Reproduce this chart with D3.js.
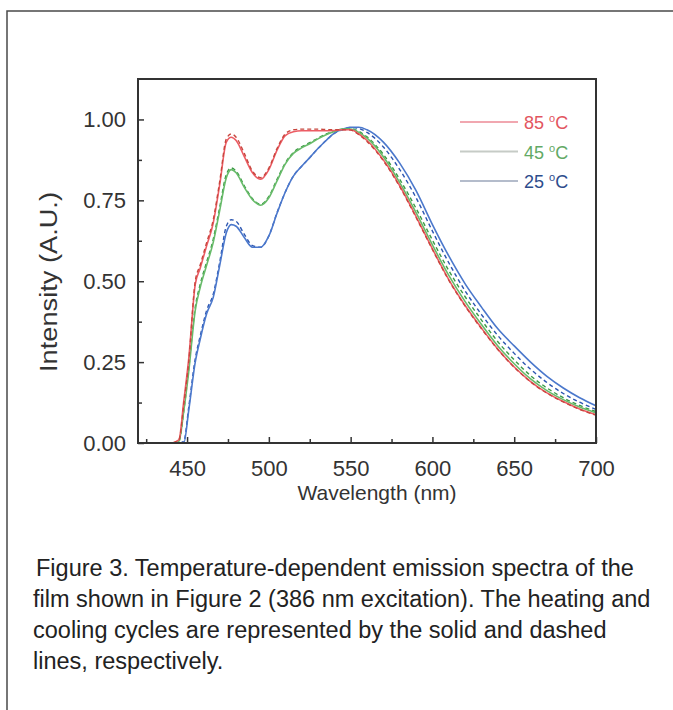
<!DOCTYPE html>
<html>
<head>
<meta charset="utf-8">
<script src="https://cdn.jsdelivr.net/npm/d3@7"></script>
<style>
  body { margin: 0; background: #fff; }
  svg text { font-family: "Liberation Sans", Arial, Helvetica, sans-serif; }
</style>
</head>
<body>
<div class="chart"></div>
<script>
// wavelength grid (nm)
let wavelengths = [420, 440, 445, 448, 451, 455, 458, 462, 466, 470, 474, 477, 480, 485, 490, 495, 500, 505, 510, 515, 520, 525, 530, 535, 540, 545, 550, 555, 560, 570, 580, 590, 600, 610, 620, 630, 640, 650, 660, 670, 680, 690, 700];

// heating (solid) and cooling (dashed) spectra
let heat85 = [0, 0, 0.01, 0.13, 0.26, 0.49, 0.54, 0.61, 0.68, 0.80, 0.93, 0.945, 0.935, 0.885, 0.835, 0.815, 0.845, 0.905, 0.95, 0.962, 0.965, 0.965, 0.965, 0.965, 0.966, 0.968, 0.968, 0.955, 0.935, 0.875, 0.795, 0.70, 0.60, 0.505, 0.425, 0.355, 0.29, 0.235, 0.19, 0.155, 0.128, 0.105, 0.087];
let cool85 = [0, 0, 0.01, 0.12, 0.25, 0.50, 0.55, 0.62, 0.69, 0.81, 0.94, 0.955, 0.945, 0.895, 0.84, 0.82, 0.85, 0.91, 0.955, 0.968, 0.97, 0.97, 0.97, 0.969, 0.968, 0.968, 0.967, 0.953, 0.932, 0.872, 0.792, 0.697, 0.598, 0.503, 0.423, 0.353, 0.289, 0.234, 0.189, 0.154, 0.127, 0.104, 0.086];
let heat45 = [0, 0, 0.005, 0.1, 0.22, 0.41, 0.48, 0.55, 0.62, 0.72, 0.82, 0.845, 0.835, 0.79, 0.752, 0.735, 0.758, 0.81, 0.862, 0.895, 0.912, 0.925, 0.94, 0.953, 0.963, 0.97, 0.97, 0.96, 0.942, 0.885, 0.805, 0.712, 0.612, 0.518, 0.437, 0.366, 0.30, 0.245, 0.198, 0.162, 0.134, 0.111, 0.093];
let cool45 = [0, 0, 0.005, 0.1, 0.23, 0.42, 0.49, 0.56, 0.63, 0.73, 0.83, 0.85, 0.84, 0.795, 0.755, 0.738, 0.762, 0.815, 0.865, 0.898, 0.915, 0.928, 0.942, 0.955, 0.964, 0.97, 0.971, 0.963, 0.946, 0.892, 0.815, 0.725, 0.627, 0.533, 0.452, 0.38, 0.313, 0.257, 0.208, 0.17, 0.14, 0.116, 0.097];
let heat25 = [0, 0, 0, 0, 0.1, 0.25, 0.32, 0.40, 0.45, 0.55, 0.65, 0.675, 0.67, 0.635, 0.605, 0.605, 0.64, 0.71, 0.775, 0.825, 0.855, 0.882, 0.91, 0.935, 0.958, 0.97, 0.976, 0.976, 0.968, 0.93, 0.865, 0.78, 0.675, 0.578, 0.492, 0.42, 0.353, 0.30, 0.25, 0.206, 0.17, 0.14, 0.115];
let cool25 = [0, 0, 0, 0.005, 0.11, 0.26, 0.33, 0.41, 0.46, 0.56, 0.67, 0.69, 0.685, 0.645, 0.61, 0.605, 0.64, 0.712, 0.775, 0.825, 0.855, 0.882, 0.91, 0.935, 0.957, 0.968, 0.975, 0.972, 0.96, 0.915, 0.845, 0.758, 0.655, 0.557, 0.47, 0.397, 0.332, 0.277, 0.228, 0.187, 0.153, 0.126, 0.104];

let legendLabels = ['85', '45', '25'];
let xTicks = [450, 500, 550, 600, 650, 700];
let xMinorTicks = [425, 475, 525, 575, 625, 675];
let yTicks = [0, 0.25, 0.5, 0.75, 1.0];
let yMinorTicks = [0.125, 0.375, 0.625, 0.875];

let captionLines = [
  'Figure 3. Temperature-dependent emission spectra of the',
  'film shown in Figure 2 (386 nm excitation). The heating and',
  'cooling cycles are represented by the solid and dashed',
  'lines, respectively.'
];

let width = 673;
let height = 710;
let plotLeft = 138, plotRight = 596, plotTop = 79, plotBottom = 443;

let series = [
  { name: 'cool25', values: cool25, color: '#2b55b0', dash: '4,3' },
  { name: 'heat25', values: heat25, color: '#4b78cc', dash: null },
  { name: 'cool45', values: cool45, color: '#3c9a46', dash: '4,3' },
  { name: 'heat45', values: heat45, color: '#68bb6a', dash: null },
  { name: 'heat85', values: heat85, color: '#ec5c64', dash: null },
  { name: 'cool85', values: cool85, color: '#c8463e', dash: '4,3' }
];
let legendColors = ['#e25560', '#62a965', '#2d4c8c'];
let legendLineColors = ['#f1a7b0', '#c6cbc6', '#b4bccb'];

let svg = d3.select('.chart')
            .append('svg')
            .attr('width', width)
            .attr('height', height);

// page frame
svg.append('path')
   .attr('d', 'M7,' + height + ' V11 H' + width)
   .attr('fill', 'none')
   .attr('stroke', '#4a4a4a')
   .attr('stroke-width', 1.5);

let xScale = d3.scaleLinear()
               .domain([420, 700])
               .range([plotLeft, plotRight]);
let yScale = d3.scaleLinear()
               .domain([0, 1.125])
               .range([plotBottom, plotTop]);

let line = d3.line()
             .x((d, i) => xScale(wavelengths[i]))
             .y(d => yScale(d))
             .curve(d3.curveMonotoneX);

svg.selectAll('.spectrum')
   .data(series)
   .enter()
   .append('path')
   .attr('class', 'spectrum')
   .attr('d', d => line(d.values))
   .attr('fill', 'none')
   .attr('stroke', d => d.color)
   .attr('stroke-width', d => d.dash ? 1.4 : 1.6)
   .attr('stroke-dasharray', d => d.dash);

// axes, ticks pointing inward
let xAxis = d3.axisBottom(xScale)
              .tickValues(xTicks)
              .tickFormat(d3.format('d'))
              .tickSize(-6)
              .tickPadding(17);
let xMinor = d3.axisBottom(xScale)
               .tickValues(xMinorTicks)
               .tickFormat('')
               .tickSize(-4);
let yAxis = d3.axisLeft(yScale)
              .tickValues(yTicks)
              .tickFormat(d3.format('.2f'))
              .tickSize(-6)
              .tickPadding(12);
let yMinor = d3.axisLeft(yScale)
               .tickValues(yMinorTicks)
               .tickFormat('')
               .tickSize(-4);

svg.append('g').attr('transform', 'translate(0,' + plotBottom + ')').call(xAxis);
svg.append('g').attr('transform', 'translate(0,' + plotBottom + ')').call(xMinor);
svg.append('g').attr('transform', 'translate(' + plotLeft + ',0)').call(yAxis);
svg.append('g').attr('transform', 'translate(' + plotLeft + ',0)').call(yMinor);

svg.selectAll('.domain').remove();
svg.selectAll('.tick line').attr('stroke', '#333').attr('stroke-width', 1.5);
svg.selectAll('.tick text')
   .attr('fill', '#333')
   .style('font-size', '22px');

svg.append('rect')
   .attr('x', plotLeft)
   .attr('y', plotTop)
   .attr('width', plotRight - plotLeft)
   .attr('height', plotBottom - plotTop)
   .attr('fill', 'none')
   .attr('stroke', '#333')
   .attr('stroke-width', 2);

svg.append('text')
   .attr('x', 377)
   .attr('y', 500)
   .attr('text-anchor', 'middle')
   .attr('fill', '#333')
   .style('font-size', '21px')
   .text('Wavelength (nm)');

svg.append('text')
   .attr('transform', 'translate(57,282) rotate(-90)')
   .attr('text-anchor', 'middle')
   .attr('fill', '#333')
   .attr('textLength', 180)
   .attr('lengthAdjust', 'spacingAndGlyphs')
   .style('font-size', '23px')
   .text('Intensity (A.U.)');

// legend
let legend = svg.selectAll('.legend-item')
                .data(legendLabels)
                .enter()
                .append('g')
                .attr('class', 'legend-item')
                .attr('transform', (d, i) => 'translate(0,' + (122 + i * 29.5) + ')');
legend.append('line')
      .attr('x1', 460)
      .attr('x2', 518)
      .attr('stroke', (d, i) => legendLineColors[i])
      .attr('stroke-width', 2);
let legendText = legend.append('text')
      .attr('x', 524)
      .attr('y', 7)
      .attr('fill', (d, i) => legendColors[i])
      .style('font-size', '18px');
legendText.append('tspan').text(d => d + ' ');
legendText.append('tspan').attr('dy', -7).style('font-size', '11px').text('o');
legendText.append('tspan').attr('dy', 7).text('C');

// caption
svg.selectAll('.caption')
   .data(captionLines)
   .enter()
   .append('text')
   .attr('class', 'caption')
   .attr('x', (d, i) => i == 0 ? 36 : 33)
   .attr('y', (d, i) => 576 + i * 31)
   .attr('fill', '#222')
   .style('font-size', '23.5px')
   .text(d => d);
</script>
</body>
</html>
